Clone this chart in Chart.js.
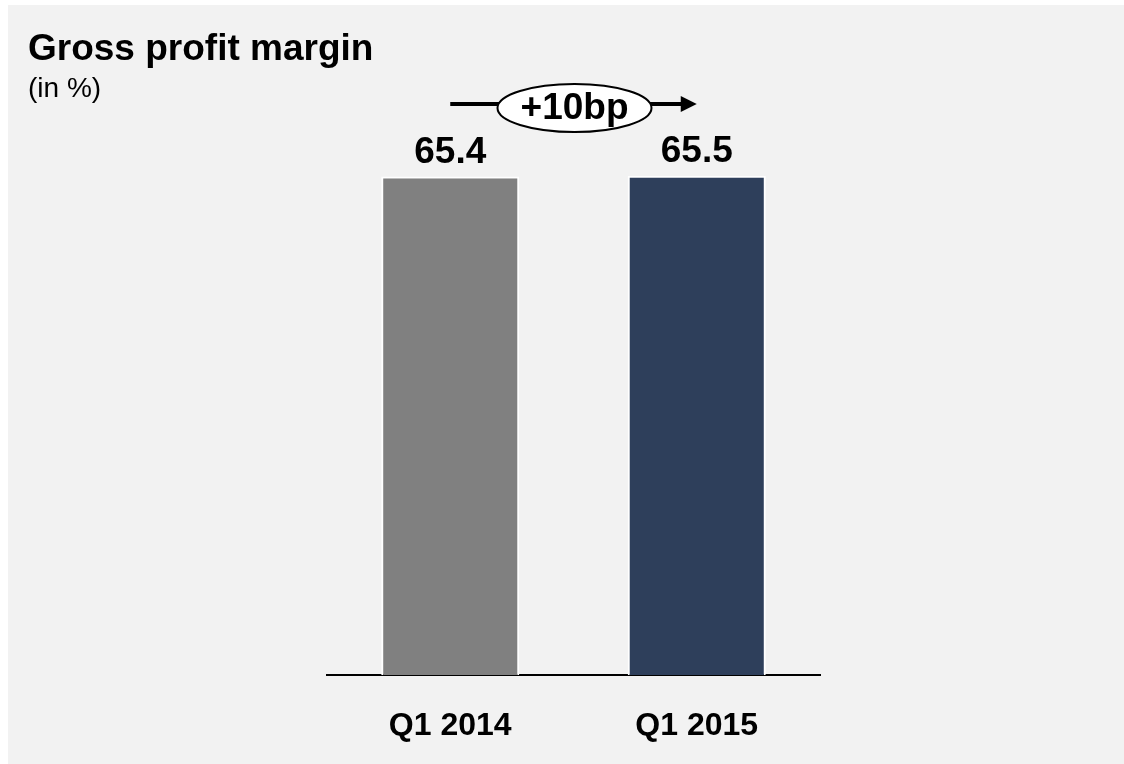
<!DOCTYPE html>
<html>
<head>
<meta charset="utf-8">
<script src="https://cdn.jsdelivr.net/npm/chart.js@4/dist/chart.umd.min.js"></script>
<style>
  html, body { margin: 0; padding: 0; background: #ffffff; }
  #frame { position: absolute; left: 8px; top: 5px; width: 1116px; height: 759px; background: #f2f2f2; }
</style>
</head>
<body>
<div id="frame"><canvas id="chart" width="1116" height="759"></canvas></div>
<script>
const categories = ['Q1 2014', 'Q1 2015'];
const margins = [65.4, 65.5];
const barColors = ['#808080', '#2e3f5b'];
const changeLabel = '+10bp';

const FONT = "'Liberation Sans', Arial, sans-serif";

// value labels above each bar
const valueLabels = {
  id: 'valueLabels',
  afterDatasetsDraw(chart) {
    const ctx = chart.ctx;
    const meta = chart.getDatasetMeta(0);
    ctx.save();
    ctx.font = `bold 37px ${FONT}`;
    ctx.fillStyle = '#000';
    ctx.textAlign = 'center';
    ctx.textBaseline = 'alphabetic';
    meta.data.forEach((bar, i) => {
      ctx.fillText(margins[i].toFixed(1), bar.x, bar.y - 14);
    });
    ctx.restore();
  }
};

// arrow with the ellipse showing the change
const changeArrow = {
  id: 'changeArrow',
  afterDraw(chart) {
    const ctx = chart.ctx;
    const bars = chart.getDatasetMeta(0).data;
    const x0 = bars[0].x, x1 = bars[1].x;
    const cx = (x0 + x1) / 2 + 1;
    const lineY = 99;
    const ellY = 103, rx = 77, ry = 24;
    ctx.save();
    ctx.strokeStyle = '#000';
    ctx.fillStyle = '#000';
    ctx.lineWidth = 4;
    ctx.beginPath();
    ctx.moveTo(x0, lineY);
    ctx.lineTo(x1 - 14, lineY);
    ctx.stroke();
    // arrow head
    ctx.beginPath();
    ctx.moveTo(x1, lineY);
    ctx.lineTo(x1 - 16, lineY - 8);
    ctx.lineTo(x1 - 16, lineY + 8);
    ctx.closePath();
    ctx.fill();
    // ellipse
    ctx.beginPath();
    ctx.ellipse(cx, ellY, rx, ry, 0, 0, Math.PI * 2);
    ctx.fillStyle = '#fff';
    ctx.fill();
    ctx.lineWidth = 2;
    ctx.stroke();
    ctx.fillStyle = '#000';
    ctx.font = `bold 37px ${FONT}`;
    ctx.textAlign = 'center';
    ctx.textBaseline = 'alphabetic';
    ctx.fillText(changeLabel, cx, 114);
    ctx.restore();
  }
};

new Chart(document.getElementById('chart'), {
  type: 'bar',
  data: {
    labels: categories,
    datasets: [{
      data: margins,
      backgroundColor: barColors,
      borderColor: '#ffffff',
      borderWidth: 2,
      borderSkipped: 'bottom',
      barPercentage: 0.56,
      categoryPercentage: 1.0
    }]
  },
  plugins: [valueLabels, changeArrow],
  options: {
    responsive: false,
    animation: false,
    layout: {
      padding: { left: 20, right: 304, top: 0, bottom: 0 }
    },
    plugins: {
      legend: { display: false },
      tooltip: { enabled: false },
      title: {
        display: true,
        text: 'Gross profit margin',
        align: 'start',
        color: '#000',
        font: { family: FONT, size: 37, weight: 'bold', lineHeight: 1.2 },
        padding: { top: 23, bottom: 0 }
      },
      subtitle: {
        display: true,
        text: '(in %)',
        align: 'start',
        color: '#000',
        font: { family: FONT, size: 28, weight: 'normal', lineHeight: 1.2 },
        padding: { top: 0, bottom: 5 }
      }
    },
    scales: {
      x: {
        grid: { display: false },
        border: { display: true, color: '#000', width: 2 },
        ticks: {
          color: '#000',
          padding: 24,
          font: { family: FONT, size: 32, weight: 'bold' }
        },
        afterFit: (scale) => { scale.height = 89; }
      },
      y: {
        min: 0,
        max: 74,
        grid: { display: false },
        border: { display: false },
        ticks: { display: false },
        afterFit: (scale) => { scale.width = 299; }
      }
    }
  }
});
</script>
</body>
</html>
